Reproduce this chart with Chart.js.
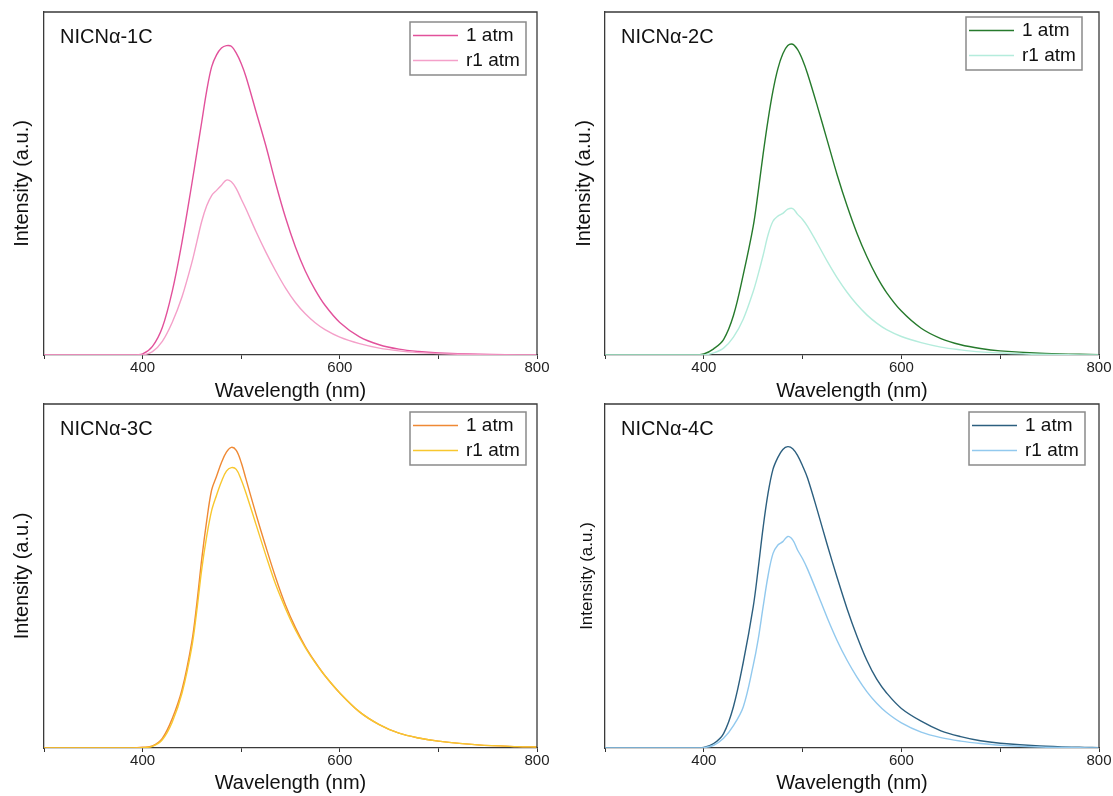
<!DOCTYPE html>
<html>
<head>
<meta charset="utf-8">
<script src="https://cdn.jsdelivr.net/npm/chart.js@4.4.1/dist/chart.umd.min.js"></script>
<style>
  html, body { margin: 0; padding: 0; background: #fff; }
  #wrap { position: relative; width: 1113px; height: 796px; overflow: hidden; }
  canvas { position: absolute; }
</style>
</head>
<body>
<div id="wrap">
  <canvas id="c1" width="556" height="404" style="left:0;top:0"></canvas>
  <canvas id="c2" width="557" height="404" style="left:556px;top:0"></canvas>
  <canvas id="c3" width="556" height="396" style="left:0;top:400px"></canvas>
  <canvas id="c4" width="557" height="396" style="left:556px;top:400px"></canvas>
</div>
<script>
// PL spectra, intensity in arbitrary units (axis top = 100)
const wavelength = [300, 390, 400, 410, 420, 430, 440, 450, 455, 460, 465, 470, 475, 480, 485, 490, 495, 500, 505,
  515, 525, 535, 545, 555, 565, 575, 585, 600, 620, 640, 660, 680, 700, 740, 780, 800];

const atm1_1C = [0, 0, 0.3, 2.5, 8, 18.5, 33, 50, 59, 68, 77, 84, 87.5, 89.5, 90.2, 90, 88, 85, 81,
  71, 61, 50, 40, 31.5, 24.5, 19, 14.5, 9.5, 5.3, 3.0, 1.7, 1.0, 0.6, 0.2, 0.05, 0];
const r1atm_1C = [0, 0, 0, 1.0, 4, 9.5, 17, 27, 33, 39, 43.5, 46.5, 48, 49.5, 51, 50.5, 48.5, 45.5, 42.5,
  36, 30, 24.5, 19.5, 15.3, 12, 9.4, 7.4, 5.2, 3.3, 2.0, 1.2, 0.7, 0.4, 0.1, 0, 0];

const atm1_2C = [0, 0, 0.3, 1.8, 4.5, 11.5, 23.5, 37.5, 47.5, 58.5, 68.5, 77, 83.5, 87.8, 90.2, 90.6, 89, 86, 82,
  72.5, 62.5, 52.5, 43.5, 35.5, 28.7, 22.9, 18.2, 12.8, 7.8, 4.8, 3.0, 1.9, 1.2, 0.5, 0.2, 0.1];
const r1atm_2C = [0, 0, 0, 0.6, 2, 5.2, 10.5, 18.5, 23.5, 29, 35, 39, 40.5, 41.3, 42.5, 42.7, 41, 39.5, 37.5,
  32.5, 27.3, 22.5, 18.3, 14.7, 11.7, 9.3, 7.4, 5.4, 3.6, 2.3, 1.5, 0.9, 0.6, 0.2, 0.05, 0];

const atm1_3C = [0, 0, 0.2, 0.6, 2.8, 8.5, 17, 31, 42, 55, 66, 75, 79, 83, 86, 87.4, 86.5, 83, 78,
  68, 58.5, 49.5, 41.5, 35, 29.5, 25, 21, 16, 10.5, 6.8, 4.3, 2.9, 2.0, 0.9, 0.4, 0.3];
const r1atm_3C = [0, 0, 0.1, 0.5, 2.4, 7.5, 16, 29.5, 40, 52, 61.5, 69, 73.5, 77.5, 80.5, 81.5, 81, 78, 74,
  65, 56, 47.5, 40.5, 34.3, 29.2, 24.8, 21, 16, 10.5, 6.8, 4.3, 2.9, 2.0, 0.9, 0.4, 0.3];

const atm1_4C = [0, 0, 0.2, 1.3, 4.2, 12, 25, 41, 52, 64, 74, 81, 84.5, 86.8, 87.6, 87, 85, 82, 78.5,
  69, 59, 49.5, 40.5, 32.5, 25.5, 20, 16, 11.5, 7.8, 5, 3.3, 2.1, 1.4, 0.6, 0.2, 0.1];
const r1atm_4C = [0, 0, 0.1, 0.8, 2.8, 6.5, 12, 24, 31.5, 41, 50, 56.5, 59, 60, 61.5, 60.5, 57.5, 55, 52,
  45, 37.8, 31.2, 25.5, 20.6, 16.4, 13, 10.3, 7.3, 4.6, 3.0, 2.0, 1.3, 0.8, 0.3, 0.1, 0];

const sampleNames = ['NICNα-1C', 'NICNα-2C', 'NICNα-3C', 'NICNα-4C'];
const seriesLabels = ['1 atm', 'r1 atm'];
const xTickLabels = [400, 600, 800];

const FONT = '"Liberation Sans", Arial, sans-serif';

// frame, sample name and boxed legend drawn inside the plot area
const panelDecor = {
  id: 'panelDecor',
  afterDraw(chart, args, opts) {
    const { ctx, chartArea: a } = chart;
    ctx.save();
    ctx.strokeStyle = '#3a3a3a';
    ctx.lineWidth = 1.3;
    ctx.beginPath();
    ctx.moveTo(a.left, a.top);
    ctx.lineTo(a.right, a.top);
    ctx.lineTo(a.right, a.bottom);
    ctx.stroke();

    ctx.fillStyle = '#111';
    ctx.textBaseline = 'middle';
    ctx.textAlign = 'left';
    ctx.font = '20px ' + FONT;
    ctx.fillText(opts.name, a.left + 16, a.top + 25);

    const bw = 116, bh = 53;
    const bx = a.right - opts.legendInset[0] - bw;
    const by = a.top + opts.legendInset[1];
    ctx.fillStyle = '#fff';
    ctx.fillRect(bx, by, bw, bh);
    ctx.strokeStyle = '#8a8a8a';
    ctx.lineWidth = 1.5;
    ctx.strokeRect(bx, by, bw, bh);

    ctx.font = '19px ' + FONT;
    chart.data.datasets.forEach((ds, i) => {
      const y = by + 13.5 + i * 25;
      ctx.strokeStyle = ds.borderColor;
      ctx.lineWidth = 1.5;
      ctx.beginPath();
      ctx.moveTo(bx + 3, y);
      ctx.lineTo(bx + 48, y);
      ctx.stroke();
      ctx.fillStyle = '#111';
      ctx.fillText(ds.label, bx + 56, y);
    });
    ctx.restore();
  }
};

function toPoints(vals) {
  return wavelength.map((w, i) => ({ x: w, y: vals[i] }));
}

function makePanel(id, name, main, reduced, colors, L) {
  new Chart(document.getElementById(id), {
    type: 'line',
    data: {
      datasets: [
        { label: seriesLabels[0], data: toPoints(main), borderColor: colors[0], order: 1 },
        { label: seriesLabels[1], data: toPoints(reduced), borderColor: colors[1], order: 0 }
      ]
    },
    options: {
      responsive: false,
      animation: false,
      parsing: false,
      layout: { padding: { top: L.top, right: L.right, left: 0, bottom: 0 } },
      elements: {
        point: { radius: 0 },
        line: { borderWidth: 1.4, tension: 0.35, fill: false }
      },
      scales: {
        x: {
          type: 'linear',
          min: 300,
          max: 800,
          afterFit: s => { s.height = L.xh; },
          ticks: {
            stepSize: 100,
            autoSkip: false,
            maxRotation: 0,
            padding: 0,
            color: '#222',
            font: { family: FONT, size: 15 },
            callback: v => xTickLabels.includes(v) ? String(v) : ''
          },
          grid: { display: true, drawOnChartArea: false, drawTicks: true, tickLength: 4, color: '#333' },
          border: { display: true, color: '#3a3a3a', width: 1.3 },
          title: {
            display: true,
            text: 'Wavelength (nm)',
            color: '#111',
            font: { family: FONT, size: 20 },
            padding: { top: 0, bottom: 1 }
          }
        },
        y: {
          min: 0,
          max: 100,
          afterFit: s => { s.width = L.yw; },
          ticks: { display: false },
          grid: { display: false },
          border: { display: true, color: '#3a3a3a', width: 1.3 },
          title: {
            display: true,
            text: 'Intensity (a.u.)',
            color: '#111',
            font: { family: FONT, size: L.yFont },
            padding: { top: L.yPad, bottom: 0 }
          }
        }
      },
      plugins: {
        legend: { display: false },
        tooltip: { enabled: false },
        panelDecor: { name: name, legendInset: L.legend }
      }
    },
    plugins: [panelDecor]
  });
}

makePanel('c1', sampleNames[0], atm1_1C, r1atm_1C, ['#e2519b', '#f4a0c9'],
  { top: 12, right: 19, yw: 44, xh: 49, yPad: 10, yFont: 20, legend: [11, 10] });
makePanel('c2', sampleNames[1], atm1_2C, r1atm_2C, ['#267a2c', '#b4ecdc'],
  { top: 12, right: 14, yw: 49, xh: 49, yPad: 16, yFont: 20, legend: [17, 5] });
makePanel('c3', sampleNames[2], atm1_3C, r1atm_3C, ['#ef8934', '#f8c72e'],
  { top: 4, right: 19, yw: 44, xh: 48, yPad: 10, yFont: 20, legend: [11, 8] });
makePanel('c4', sampleNames[3], atm1_4C, r1atm_4C, ['#2c5f7f', '#92c9ee'],
  { top: 4, right: 14, yw: 49, xh: 48, yPad: 21, yFont: 17, legend: [14, 8] });
</script>
</body>
</html>
